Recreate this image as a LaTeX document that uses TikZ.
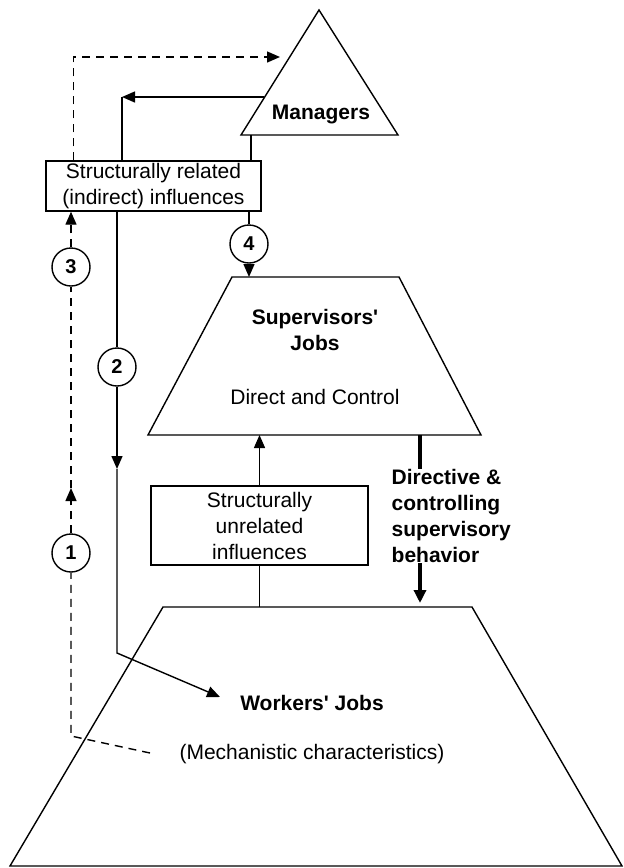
\documentclass[tikz,border=0pt]{standalone}
\usepackage{fontspec}
\setmainfont{Liberation Sans}
\usetikzlibrary{arrows.meta,positioning}

\begin{document}
\begin{tikzpicture}[
      x=1pt,y=-1pt,line width=1.4pt,
      node distance=32pt,
      txt/.style={inner sep=0pt,align=center,font=\fontsize{21}{26}\selectfont},
      hd/.style={txt,font=\fontsize{21}{26}\selectfont\bfseries},
      box/.style={txt,rectangle,draw},
      num/.style={circle,draw,minimum size=38pt,inner sep=0pt,font=\fontsize{20}{24}\selectfont\bfseries},
      a/.style={-{Triangle[length=13pt,width=11pt]}},
      dsh/.style={dash pattern=on 8pt off 6pt},
      thk/.style={line width=3.4pt}]
    \useasboundingbox (0,0) rectangle (624,868);
    % levels
    \coordinate (mtop) at (319,10);  \coordinate (mbl) at (241,135); \coordinate (mbr) at (398,135);
    \coordinate (stl) at (232,277);  \coordinate (str) at (399,277);
    \coordinate (sbr) at (481,435);  \coordinate (sbl) at (148,435);
    \coordinate (wtl) at (163,607);  \coordinate (wtr) at (472,607);
    \coordinate (wbr) at (622,866);  \coordinate (wbl) at (10,866);
    \draw (mtop) -- (mbr) -- (mbl) -- cycle;
    \draw (stl) -- (str) -- (sbr) -- (sbl) -- cycle;
    \draw (wtl) -- (wtr) -- (wbr) -- (wbl) -- cycle;
    \node[hd] (mgr) at (321,114) {Managers};
    \node[hd] (sup) at (315,330) {Supervisors\textquotesingle\\Jobs};
    \node[txt,below=37pt of sup] (dc) {Direct and Control};
    \node[hd] (wj) at (312,703) {Workers\textquotesingle\ Jobs};
    \node[txt,below=of wj] (mc) {(Mechanistic characteristics)};
    % influence boxes
    \node[box,minimum width=215pt,minimum height=50pt] (rel) at (153.5,186) {Structurally related\\(indirect) influences};
    \node[box,minimum width=217pt,minimum height=79pt] (unrel) at (259.5,525.5) {Structurally\\unrelated\\influences};
    \node[hd,anchor=west,align=left] (dir) at (391,516) {Directive \&\\controlling\\supervisory\\behavior};
    % numbered paths
    \node[num] (c1) at (71,553) {1};
    \node[num] (c2) at (117,367) {2};
    \node[num] (c3) at (71,267) {3};
    \node[num] (c4) at (249,244) {4};
    \coordinate (dend) at (150,753); \coordinate (kd) at (71,736);
    \coordinate (ad) at (71,488);    \coordinate (mdash) at (280,57);
    \coordinate (mleft) at (264,97); \coordinate (k2) at (122,97);
    \coordinate (a2) at (117,469);   \coordinate (k3) at (117,653);
    \coordinate (tip2) at (220,697); \coordinate (m4) at (251,135);
    \coordinate (dtop) at (420,435);
    % path 1 and 3 (dashed)
    \draw[dsh] (dend) -- (kd) -- (c1);
    \draw[dsh,a] (c1) -- (ad);
    \draw[dsh] (ad) -- (c3);
    \draw[dsh,a] (c3) -- (c3 |- rel.south);
    \draw[dsh,a] ([xshift=28pt]rel.north west) |- (mdash);
    % managers to related influences
    \draw[a] (mleft) -- (k2);
    \draw (k2) -- (k2 |- rel.north);
    \draw (m4) -- (m4 |- rel.north);
    % path 2
    \draw (c2 |- rel.south) -- (c2);
    \draw[a] (c2) -- (a2);
    \draw[a] (a2) -- (k3) -- (tip2);
    % path 4
    \draw (c4 |- rel.south) -- (c4);
    \draw[a] (c4) -- (c4 |- stl);
    % unrelated influences
    \draw[a] (unrel.north) -- (unrel.north |- sbl);
    \draw (unrel.south) -- (unrel.south |- wtl);
    % supervisory behavior
    \draw[thk] (dtop) -- (dtop |- dir.north);
    \draw[thk,-{Triangle[length=13pt,width=12pt]},shorten >=4pt] (dtop |- dir.south) -- (dtop |- wtl);
  \end{tikzpicture}
\end{document}
